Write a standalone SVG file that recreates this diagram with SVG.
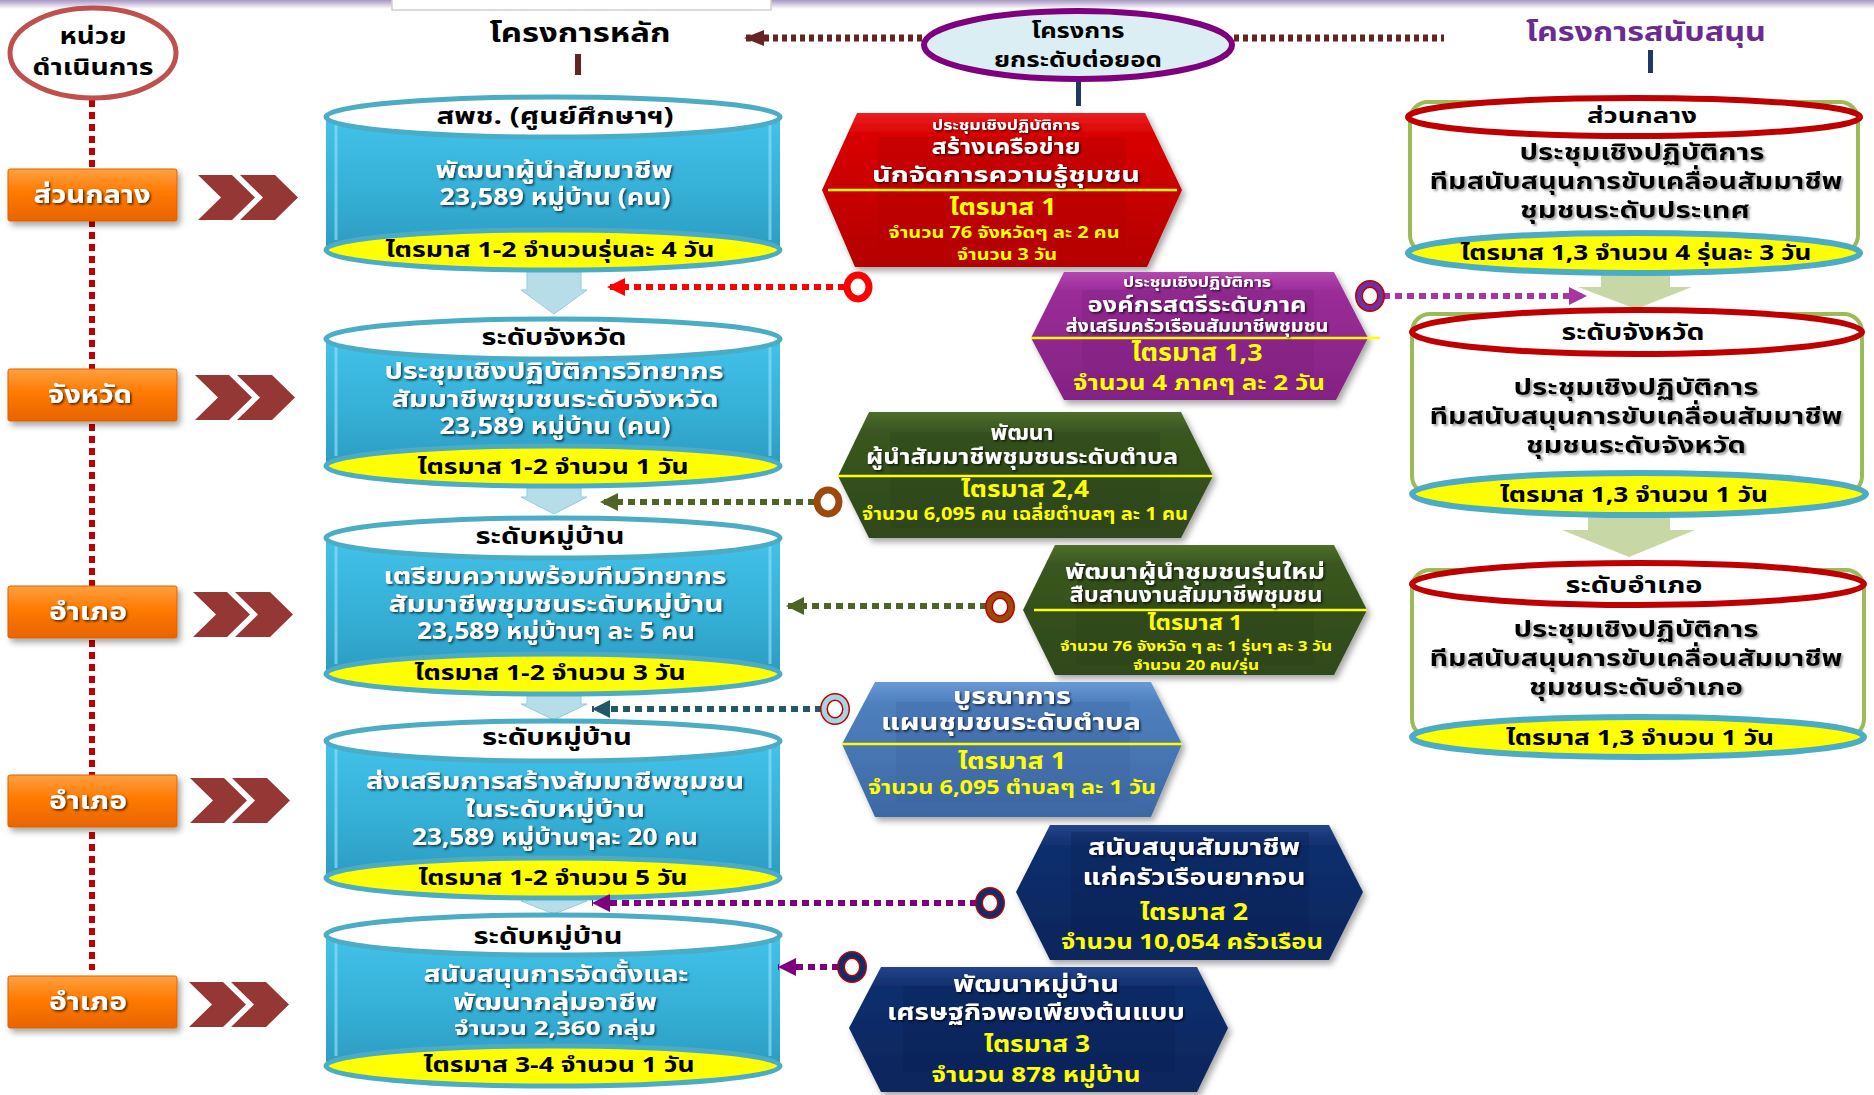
<svg xmlns="http://www.w3.org/2000/svg" width="1874" height="1095" viewBox="0 0 1874 1095">
<defs>
<style>
text{font-family:'Noto Sans Thai','Noto Sans','DejaVu Sans',sans-serif;font-weight:bold;text-anchor:middle;dominant-baseline:central}
.blk{fill:#000}
.wht{fill:#fff;filter:url(#ts)}
.yel{fill:#ffff00}
.gtx{fill:#000;filter:url(#tg)}
.cylbody{fill:url(#gBlue)}
.cyledge{fill:none;stroke:#8fdcf3;stroke-width:3;opacity:.7}
.cyltop{fill:#fff;stroke:#4bacc6;stroke-width:5}
.cylbot{fill:#ffff00;stroke:#4bacc6;stroke-width:5}
.rtop{fill:#fff;stroke:#c00000;stroke-width:6}
.rbot{fill:#ffff00;stroke:#4bacc6;stroke-width:6}
.rside{fill:#fff;stroke:#9bbb59;stroke-width:4}
.obox{fill:url(#gOrange);stroke:#d9640a;stroke-width:1;filter:url(#sh)}
.chev{fill:#953735}
.barrow{fill:#b7dde8;stroke:#93cddd;stroke-width:1}
.garrow{fill:#c7d7a6}
.yl{stroke:#ffff00;stroke-width:2.5}
.dot{fill:none;stroke-width:6;stroke-dasharray:7 5}
.hex{filter:url(#sh)}
</style>
<linearGradient id="gBlue" x1="0" y1="0" x2="0" y2="1">
<stop offset="0" stop-color="#42c2ea"/><stop offset="0.5" stop-color="#35afd6"/><stop offset="1" stop-color="#2a95b9"/>
</linearGradient>
<linearGradient id="gOrange" x1="0" y1="0" x2="0" y2="1">
<stop offset="0" stop-color="#ffa040"/><stop offset="0.45" stop-color="#ff7a00"/><stop offset="1" stop-color="#e86400"/>
</linearGradient>
<linearGradient id="gRed" x1="0" y1="0" x2="0" y2="1">
<stop offset="0" stop-color="#ec2020"/><stop offset="0.15" stop-color="#d80000"/><stop offset="1" stop-color="#b40000"/>
</linearGradient>
<linearGradient id="gPur" x1="0" y1="0" x2="0" y2="1">
<stop offset="0" stop-color="#b447b2"/><stop offset="0.15" stop-color="#9a2d98"/><stop offset="1" stop-color="#842283"/>
</linearGradient>
<linearGradient id="gGrn" x1="0" y1="0" x2="0" y2="1">
<stop offset="0" stop-color="#4e6e2c"/><stop offset="0.15" stop-color="#3a5620"/><stop offset="1" stop-color="#2f481a"/>
</linearGradient>
<linearGradient id="gStl" x1="0" y1="0" x2="0" y2="1">
<stop offset="0" stop-color="#6a9ad6"/><stop offset="0.15" stop-color="#4f80be"/><stop offset="1" stop-color="#3d68a3"/>
</linearGradient>
<linearGradient id="gNav" x1="0" y1="0" x2="0" y2="1">
<stop offset="0" stop-color="#24458a"/><stop offset="0.15" stop-color="#112f6e"/><stop offset="1" stop-color="#0c255c"/>
</linearGradient>
<linearGradient id="gTop" x1="0" y1="0" x2="0" y2="1">
<stop offset="0" stop-color="#a898c4"/><stop offset="1" stop-color="#ffffff"/>
</linearGradient>
<filter id="sh" x="-10%" y="-10%" width="125%" height="135%">
<feDropShadow dx="3" dy="4" stdDeviation="3" flood-color="#000" flood-opacity="0.35"/>
</filter>
<filter id="ts" x="-5%" y="-20%" width="115%" height="150%">
<feDropShadow dx="1.5" dy="1.5" stdDeviation="0.8" flood-color="#000" flood-opacity="0.7"/>
</filter>
<filter id="tg" x="-5%" y="-20%" width="115%" height="150%">
<feDropShadow dx="2" dy="2" stdDeviation="1" flood-color="#888" flood-opacity="0.8"/>
</filter>
<marker id="mRed" viewBox="0 0 10 10" refX="10" refY="5" markerWidth="18" markerHeight="18" markerUnits="userSpaceOnUse" orient="auto"><path d="M0,0 L10,5 L0,10 z" fill="#ff0000"/></marker>
<marker id="mOl" viewBox="0 0 10 10" refX="10" refY="5" markerWidth="18" markerHeight="18" markerUnits="userSpaceOnUse" orient="auto"><path d="M0,0 L10,5 L0,10 z" fill="#4f6228"/></marker>
<marker id="mTeal" viewBox="0 0 10 10" refX="10" refY="5" markerWidth="18" markerHeight="18" markerUnits="userSpaceOnUse" orient="auto"><path d="M0,0 L10,5 L0,10 z" fill="#215967"/></marker>
<marker id="mPur" viewBox="0 0 10 10" refX="10" refY="5" markerWidth="18" markerHeight="18" markerUnits="userSpaceOnUse" orient="auto"><path d="M0,0 L10,5 L0,10 z" fill="#7f007f"/></marker>
<marker id="mMag" viewBox="0 0 10 10" refX="10" refY="5" markerWidth="18" markerHeight="18" markerUnits="userSpaceOnUse" orient="auto"><path d="M0,0 L10,5 L0,10 z" fill="#a935a5"/></marker>
<marker id="mBrn" viewBox="0 0 10 10" refX="10" refY="5" markerWidth="20" markerHeight="16" markerUnits="userSpaceOnUse" orient="auto" preserveAspectRatio="none"><path d="M0,0 L10,5 L0,10 z" fill="#632523"/></marker>
</defs>

<rect x="0" y="0" width="1874" height="1095" fill="#ffffff"/>
<rect x="0" y="0" width="1874" height="9" fill="url(#gTop)"/>
<rect x="392" y="-2" width="379" height="12" fill="#fff" stroke="#d0d0d0" stroke-width="1.5"/>

<!-- connectors -->
<g id="connectors">
<line class="dot" x1="92" y1="100" x2="92" y2="970" stroke="#c00000"/>
<line x1="922" y1="38" x2="744" y2="38" stroke="#632523" stroke-width="7" stroke-dasharray="5 4" marker-end="url(#mBrn)"/>
<line x1="1234" y1="38" x2="1444" y2="38" stroke="#632523" stroke-width="7" stroke-dasharray="5 4"/>
<rect x="575" y="54" width="6" height="21" fill="#632523"/>
<rect x="1076" y="79" width="5" height="27" fill="#1f3864"/>
<rect x="1648" y="50" width="5" height="23" fill="#1f3864"/>
</g>

<!-- left unit column -->
<g id="unit-header">
<ellipse cx="93" cy="53" rx="83" ry="45" fill="#fff" stroke="#c0504d" stroke-width="5"/>
<text class="blk" x="93" y="37" font-size="23" textLength="67" lengthAdjust="spacingAndGlyphs">หน่วย</text>
<text class="blk" x="93" y="68" font-size="23" textLength="121" lengthAdjust="spacingAndGlyphs">ดำเนินการ</text>
</g>
<g id="unit-1"><rect class="obox" x="8" y="169" width="169" height="52" rx="2"/><text class="wht" x="92" y="195" font-size="25" textLength="117" lengthAdjust="spacingAndGlyphs">ส่วนกลาง</text></g>
<g id="unit-2"><rect class="obox" x="8" y="369" width="169" height="52" rx="2"/><text class="wht" x="90" y="395" font-size="25" textLength="84" lengthAdjust="spacingAndGlyphs">จังหวัด</text></g>
<g id="unit-3"><rect class="obox" x="8" y="586" width="169" height="52" rx="2"/><text class="wht" x="88" y="612" font-size="25" textLength="78" lengthAdjust="spacingAndGlyphs">อำเภอ</text></g>
<g id="unit-4"><rect class="obox" x="8" y="775" width="169" height="52" rx="2"/><text class="wht" x="88" y="801" font-size="25" textLength="78" lengthAdjust="spacingAndGlyphs">อำเภอ</text></g>
<g id="unit-5"><rect class="obox" x="8" y="976" width="169" height="52" rx="2"/><text class="wht" x="88" y="1002" font-size="25" textLength="78" lengthAdjust="spacingAndGlyphs">อำเภอ</text></g>

<g id="chevrons">
<g transform="translate(198,175)"><polygon class="chev" points="0,0 34,0 57,22.5 34,45 0,45 23,22.5"/><polygon class="chev" points="42,0 77,0 100,22.5 77,45 42,45 65,22.5"/></g>
<g transform="translate(195,375)"><polygon class="chev" points="0,0 34,0 57,22.5 34,45 0,45 23,22.5"/><polygon class="chev" points="42,0 77,0 100,22.5 77,45 42,45 65,22.5"/></g>
<g transform="translate(193,592)"><polygon class="chev" points="0,0 34,0 57,22.5 34,45 0,45 23,22.5"/><polygon class="chev" points="42,0 77,0 100,22.5 77,45 42,45 65,22.5"/></g>
<g transform="translate(190,778)"><polygon class="chev" points="0,0 34,0 57,22.5 34,45 0,45 23,22.5"/><polygon class="chev" points="42,0 77,0 100,22.5 77,45 42,45 65,22.5"/></g>
<g transform="translate(189,982)"><polygon class="chev" points="0,0 34,0 57,22.5 34,45 0,45 23,22.5"/><polygon class="chev" points="42,0 77,0 100,22.5 77,45 42,45 65,22.5"/></g>
</g>

<!-- headers -->
<g id="header-main"><text class="blk" x="580" y="33" font-size="27" textLength="181" lengthAdjust="spacingAndGlyphs">โครงการหลัก</text></g>
<g id="header-upgrade">
<ellipse cx="1078" cy="45" rx="154" ry="34" fill="#dbeef4" stroke="#7f007f" stroke-width="6"/>
<text class="blk" x="1078" y="31" font-size="21" textLength="93" lengthAdjust="spacingAndGlyphs">โครงการ</text>
<text class="blk" x="1078" y="60" font-size="21" textLength="168" lengthAdjust="spacingAndGlyphs">ยกระดับต่อยอด</text>
</g>
<g id="header-support"><text x="1646" y="32" font-size="27" fill="#6b2c91" textLength="240" lengthAdjust="spacingAndGlyphs">โครงการสนับสนุน</text></g>

<!-- blue down arrows -->
<g id="main-arrows">
<polygon class="barrow" points="527,262 581,262 581,290 587,290 554,314 521,290 527,290"/>
<polygon class="barrow" points="527,484 581,484 581,497 587,497 554,514 521,497 527,497"/>
<polygon class="barrow" points="527,692 581,692 581,704 587,704 554,720 521,704 527,704"/>
<polygon class="barrow" points="527,895 581,895 581,901 587,901 554,914 521,901 527,901"/>
</g>

<!-- main cylinders -->
<g id="main-1">
<path class="cylbody" d="M326,117 L326,250 A227,20 0 0 0 780,250 L780,117 Z"/>
<path class="cyledge" d="M336,125 L336,240 M770,125 L770,240"/>
<ellipse class="cyltop" cx="553" cy="117" rx="227" ry="20"/>
<ellipse class="cylbot" cx="553" cy="250" rx="227" ry="20"/>
<text class="blk" x="555" y="117" font-size="23" textLength="237" lengthAdjust="spacingAndGlyphs">สพช. (ศูนย์ศึกษาฯ)</text>
<text class="wht" x="554" y="171" font-size="23" textLength="237" lengthAdjust="spacingAndGlyphs">พัฒนาผู้นำสัมมาชีพ</text>
<text class="wht" x="555" y="198" font-size="23" textLength="231" lengthAdjust="spacingAndGlyphs">23,589 หมู่บ้าน (คน)</text>
<text class="blk" x="550" y="250" font-size="22" textLength="329" lengthAdjust="spacingAndGlyphs">ไตรมาส 1-2 จำนวนรุ่นละ 4 วัน</text>
</g>
<g id="main-2">
<path class="cylbody" d="M326,339 L326,466 A227,20 0 0 0 780,466 L780,339 Z"/>
<path class="cyledge" d="M336,347 L336,456 M770,347 L770,456"/>
<ellipse class="cyltop" cx="553" cy="339" rx="227" ry="20"/>
<ellipse class="cylbot" cx="553" cy="466" rx="227" ry="20"/>
<text class="blk" x="554" y="338" font-size="23" textLength="145" lengthAdjust="spacingAndGlyphs">ระดับจังหวัด</text>
<text class="wht" x="554" y="372" font-size="23" textLength="339" lengthAdjust="spacingAndGlyphs">ประชุมเชิงปฏิบัติการวิทยากร</text>
<text class="wht" x="555" y="400" font-size="23" textLength="327" lengthAdjust="spacingAndGlyphs">สัมมาชีพชุมชนระดับจังหวัด</text>
<text class="wht" x="555" y="427" font-size="23" textLength="231" lengthAdjust="spacingAndGlyphs">23,589 หมู่บ้าน (คน)</text>
<text class="blk" x="553" y="467" font-size="22" textLength="271" lengthAdjust="spacingAndGlyphs">ไตรมาส 1-2 จำนวน 1 วัน</text>
</g>
<g id="main-3">
<path class="cylbody" d="M326,538 L326,674 A227,20 0 0 0 780,674 L780,538 Z"/>
<path class="cyledge" d="M336,546 L336,664 M770,546 L770,664"/>
<ellipse class="cyltop" cx="553" cy="538" rx="227" ry="20"/>
<ellipse class="cylbot" cx="553" cy="674" rx="227" ry="20"/>
<text class="blk" x="550" y="537" font-size="23" textLength="149" lengthAdjust="spacingAndGlyphs">ระดับหมู่บ้าน</text>
<text class="wht" x="555" y="577" font-size="23" textLength="343" lengthAdjust="spacingAndGlyphs">เตรียมความพร้อมทีมวิทยากร</text>
<text class="wht" x="556" y="605" font-size="23" textLength="335" lengthAdjust="spacingAndGlyphs">สัมมาชีพชุมชนระดับหมู่บ้าน</text>
<text class="wht" x="556" y="632" font-size="23" textLength="278" lengthAdjust="spacingAndGlyphs">23,589 หมู่บ้านๆ ละ 5 คน</text>
<text class="blk" x="550" y="673" font-size="22" textLength="271" lengthAdjust="spacingAndGlyphs">ไตรมาส 1-2 จำนวน 3 วัน</text>
</g>
<g id="main-4">
<path class="cylbody" d="M326,741 L326,878 A227,20 0 0 0 780,878 L780,741 Z"/>
<path class="cyledge" d="M336,749 L336,868 M770,749 L770,868"/>
<ellipse class="cyltop" cx="553" cy="741" rx="227" ry="20"/>
<ellipse class="cylbot" cx="553" cy="878" rx="227" ry="20"/>
<text class="blk" x="557" y="738" font-size="23" textLength="150" lengthAdjust="spacingAndGlyphs">ระดับหมู่บ้าน</text>
<text class="wht" x="555" y="782" font-size="23" textLength="378" lengthAdjust="spacingAndGlyphs">ส่งเสริมการสร้างสัมมาชีพชุมชน</text>
<text class="wht" x="555" y="810" font-size="23" textLength="180" lengthAdjust="spacingAndGlyphs">ในระดับหมู่บ้าน</text>
<text class="wht" x="555" y="838" font-size="23" textLength="286" lengthAdjust="spacingAndGlyphs">23,589 หมู่บ้านๆละ 20 คน</text>
<text class="blk" x="553" y="878" font-size="22" textLength="269" lengthAdjust="spacingAndGlyphs">ไตรมาส 1-2 จำนวน 5 วัน</text>
</g>
<g id="main-5">
<path class="cylbody" d="M326,935 L326,1066 A227,20 0 0 0 780,1066 L780,935 Z"/>
<path class="cyledge" d="M336,943 L336,1056 M770,943 L770,1056"/>
<ellipse class="cyltop" cx="553" cy="935" rx="227" ry="20"/>
<ellipse class="cylbot" cx="553" cy="1066" rx="227" ry="20"/>
<text class="blk" x="548" y="937" font-size="23" textLength="149" lengthAdjust="spacingAndGlyphs">ระดับหมู่บ้าน</text>
<text class="wht" x="556" y="975" font-size="23" textLength="265" lengthAdjust="spacingAndGlyphs">สนับสนุนการจัดตั้งและ</text>
<text class="wht" x="555" y="1003" font-size="23" textLength="204" lengthAdjust="spacingAndGlyphs">พัฒนากลุ่มอาชีพ</text>
<text class="wht" x="555" y="1029" font-size="20" textLength="202" lengthAdjust="spacingAndGlyphs">จำนวน 2,360 กลุ่ม</text>
<text class="blk" x="559" y="1065" font-size="22" textLength="271" lengthAdjust="spacingAndGlyphs">ไตรมาส 3-4 จำนวน 1 วัน</text>
</g>

<!-- green arrows -->
<g id="support-arrows">
<polygon class="garrow" points="1601,270 1670,270 1670,287 1692,287 1636,309 1578,287 1601,287"/>
<polygon class="garrow" points="1588,514 1670,514 1670,530 1695,530 1629,557 1562,530 1588,530"/>
</g>

<!-- support cylinders -->
<g id="support-1">
<rect class="rside" x="1410" y="102" width="448" height="151" rx="18"/>
<ellipse class="rtop" cx="1634" cy="117" rx="226" ry="19"/>
<ellipse class="rbot" cx="1634" cy="253" rx="226" ry="20"/>
<text class="blk" x="1642" y="116" font-size="22" textLength="110" lengthAdjust="spacingAndGlyphs">ส่วนกลาง</text>
<text class="gtx" x="1642" y="153" font-size="23" textLength="245" lengthAdjust="spacingAndGlyphs">ประชุมเชิงปฏิบัติการ</text>
<text class="gtx" x="1636" y="182" font-size="23" textLength="413" lengthAdjust="spacingAndGlyphs">ทีมสนับสนุนการขับเคลื่อนสัมมาชีพ</text>
<text class="gtx" x="1635" y="211" font-size="23" textLength="230" lengthAdjust="spacingAndGlyphs">ชุมชนระดับประเทศ</text>
<text class="blk" x="1636" y="253" font-size="22" textLength="351" lengthAdjust="spacingAndGlyphs">ไตรมาส 1,3 จำนวน 4 รุ่นละ 3 วัน</text>
</g>
<g id="support-2">
<rect class="rside" x="1412" y="314" width="450" height="180" rx="18"/>
<ellipse class="rtop" cx="1637" cy="332" rx="225" ry="22"/>
<ellipse class="rbot" cx="1639" cy="494" rx="227" ry="21"/>
<text class="blk" x="1633" y="333" font-size="23" textLength="143" lengthAdjust="spacingAndGlyphs">ระดับจังหวัด</text>
<text class="gtx" x="1636" y="388" font-size="23" textLength="245" lengthAdjust="spacingAndGlyphs">ประชุมเชิงปฏิบัติการ</text>
<text class="gtx" x="1636" y="417" font-size="23" textLength="413" lengthAdjust="spacingAndGlyphs">ทีมสนับสนุนการขับเคลื่อนสัมมาชีพ</text>
<text class="gtx" x="1636" y="446" font-size="23" textLength="220" lengthAdjust="spacingAndGlyphs">ชุมชนระดับจังหวัด</text>
<text class="blk" x="1634" y="495" font-size="22" textLength="268" lengthAdjust="spacingAndGlyphs">ไตรมาส 1,3 จำนวน 1 วัน</text>
</g>
<g id="support-3">
<rect class="rside" x="1412" y="570" width="452" height="167" rx="18"/>
<ellipse class="rtop" cx="1638" cy="584" rx="226" ry="21"/>
<ellipse class="rbot" cx="1638" cy="737" rx="226" ry="20"/>
<text class="blk" x="1634" y="586" font-size="23" textLength="137" lengthAdjust="spacingAndGlyphs">ระดับอำเภอ</text>
<text class="gtx" x="1636" y="630" font-size="23" textLength="245" lengthAdjust="spacingAndGlyphs">ประชุมเชิงปฏิบัติการ</text>
<text class="gtx" x="1636" y="659" font-size="23" textLength="413" lengthAdjust="spacingAndGlyphs">ทีมสนับสนุนการขับเคลื่อนสัมมาชีพ</text>
<text class="gtx" x="1636" y="688" font-size="23" textLength="214" lengthAdjust="spacingAndGlyphs">ชุมชนระดับอำเภอ</text>
<text class="blk" x="1640" y="738" font-size="22" textLength="268" lengthAdjust="spacingAndGlyphs">ไตรมาส 1,3 จำนวน 1 วัน</text>
</g>

<!-- hexagons -->
<g id="upgrade-1">
<polygon class="hex" points="857,113 1145,113 1182,190 1147,267 855,267 822,190" fill="url(#gRed)"/>
<rect x="878" y="137" width="248" height="108" fill="#b00000" opacity=".35"/>
<line class="yl" x1="828" y1="190" x2="1177" y2="190"/>
<text class="wht" x="1006" y="125" font-size="14" textLength="148" lengthAdjust="spacingAndGlyphs">ประชุมเชิงปฏิบัติการ</text>
<text class="wht" x="1006" y="147" font-size="22" textLength="149" lengthAdjust="spacingAndGlyphs">สร้างเครือข่าย</text>
<text class="wht" x="1006" y="175" font-size="22" textLength="268" lengthAdjust="spacingAndGlyphs">นักจัดการความรู้ชุมชน</text>
<text class="yel" x="1003" y="208" font-size="23" textLength="107" lengthAdjust="spacingAndGlyphs">ไตรมาส 1</text>
<text class="yel" x="1004" y="233" font-size="16" textLength="231" lengthAdjust="spacingAndGlyphs">จำนวน 76 จังหวัดๆ ละ 2 คน</text>
<text class="yel" x="1007" y="255" font-size="16" textLength="100" lengthAdjust="spacingAndGlyphs">จำนวน 3 วัน</text>
</g>
<g id="upgrade-2">
<polygon class="hex" points="1064,272 1334,272 1368,338 1336,400 1064,400 1031,338" fill="url(#gPur)"/>
<rect x="1082" y="290" width="232" height="100" fill="#7a1f7a" opacity=".3"/>
<line class="yl" x1="1031" y1="338" x2="1380" y2="338"/>
<text class="wht" x="1197" y="282" font-size="14" textLength="148" lengthAdjust="spacingAndGlyphs">ประชุมเชิงปฏิบัติการ</text>
<text class="wht" x="1197" y="305" font-size="22" textLength="219" lengthAdjust="spacingAndGlyphs">องค์กรสตรีระดับภาค</text>
<text class="wht" x="1197" y="327" font-size="17" textLength="263" lengthAdjust="spacingAndGlyphs">ส่งเสริมครัวเรือนสัมมาชีพชุมชน</text>
<text class="yel" x="1197" y="354" font-size="24" textLength="131" lengthAdjust="spacingAndGlyphs">ไตรมาส 1,3</text>
<text class="yel" x="1199" y="383" font-size="22" textLength="252" lengthAdjust="spacingAndGlyphs">จำนวน 4 ภาคๆ ละ 2 วัน</text>
</g>
<g id="upgrade-3">
<polygon class="hex" points="869,412 1181,412 1213,476 1181,538 869,538 838,476" fill="url(#gGrn)"/>
<rect x="890" y="432" width="270" height="96" fill="#2a4217" opacity=".35"/>
<line class="yl" x1="838" y1="476" x2="1213" y2="476"/>
<text class="wht" x="1022" y="433" font-size="21" textLength="63" lengthAdjust="spacingAndGlyphs">พัฒนา</text>
<text class="wht" x="1022" y="457" font-size="21" textLength="312" lengthAdjust="spacingAndGlyphs">ผู้นำสัมมาชีพชุมชนระดับตำบล</text>
<text class="yel" x="1025" y="490" font-size="23" textLength="128" lengthAdjust="spacingAndGlyphs">ไตรมาส 2,4</text>
<text class="yel" x="1025" y="515" font-size="17" textLength="326" lengthAdjust="spacingAndGlyphs">จำนวน 6,095 คน เฉลี่ยตำบลๆ ละ 1 คน</text>
</g>
<g id="upgrade-4">
<polygon class="hex" points="1055,545 1334,545 1367,610 1334,675 1055,675 1023,610" fill="url(#gGrn)"/>
<rect x="1076" y="565" width="238" height="100" fill="#2a4217" opacity=".35"/>
<line class="yl" x1="1034" y1="610" x2="1367" y2="610"/>
<text class="wht" x="1195" y="572" font-size="21" textLength="260" lengthAdjust="spacingAndGlyphs">พัฒนาผู้นำชุมชนรุ่นใหม่</text>
<text class="wht" x="1196" y="595" font-size="21" textLength="253" lengthAdjust="spacingAndGlyphs">สืบสานงานสัมมาชีพชุมชน</text>
<text class="yel" x="1195" y="623" font-size="21" textLength="95" lengthAdjust="spacingAndGlyphs">ไตรมาส 1</text>
<text class="yel" x="1196" y="646" font-size="14" textLength="272" lengthAdjust="spacingAndGlyphs">จำนวน 76 จังหวัด ๆ ละ 1 รุ่นๆ ละ 3 วัน</text>
<text class="yel" x="1196" y="665" font-size="14" textLength="126" lengthAdjust="spacingAndGlyphs">จำนวน 20 คน/รุ่น</text>
</g>
<g id="upgrade-5">
<polygon class="hex" points="875,682 1151,682 1182,744 1151,817 875,817 842,744" fill="url(#gStl)"/>
<rect x="896" y="702" width="234" height="100" fill="#3a64a0" opacity=".3"/>
<line class="yl" x1="842" y1="744" x2="1182" y2="744"/>
<text class="wht" x="1012" y="697" font-size="23" textLength="118" lengthAdjust="spacingAndGlyphs">บูรณาการ</text>
<text class="wht" x="1011" y="723" font-size="23" textLength="260" lengthAdjust="spacingAndGlyphs">แผนชุมชนระดับตำบล</text>
<text class="yel" x="1012" y="762" font-size="23" textLength="108" lengthAdjust="spacingAndGlyphs">ไตรมาส 1</text>
<text class="yel" x="1012" y="788" font-size="20" textLength="288" lengthAdjust="spacingAndGlyphs">จำนวน 6,095 ตำบลๆ ละ 1 วัน</text>
</g>
<g id="upgrade-6">
<polygon class="hex" points="1050,825 1329,825 1363,892 1329,960 1050,960 1016,892" fill="url(#gNav)"/>
<rect x="1071" y="832" width="238" height="108" fill="#0a1f52" opacity=".35"/>
<text class="wht" x="1194" y="848" font-size="23" textLength="212" lengthAdjust="spacingAndGlyphs">สนับสนุนสัมมาชีพ</text>
<text class="wht" x="1194" y="878" font-size="23" textLength="223" lengthAdjust="spacingAndGlyphs">แก่ครัวเรือนยากจน</text>
<text class="yel" x="1194" y="913" font-size="23" textLength="108" lengthAdjust="spacingAndGlyphs">ไตรมาส 2</text>
<text class="yel" x="1192" y="942" font-size="22" textLength="262" lengthAdjust="spacingAndGlyphs">จำนวน 10,054 ครัวเรือน</text>
</g>
<g id="upgrade-7">
<polygon class="hex" points="881,967 1197,967 1228,1028 1197,1092 881,1092 849,1028" fill="url(#gNav)"/>
<rect x="903" y="986" width="272" height="86" fill="#0a1f52" opacity=".35"/>
<text class="wht" x="1036" y="985" font-size="23" textLength="166" lengthAdjust="spacingAndGlyphs">พัฒนาหมู่บ้าน</text>
<text class="wht" x="1036" y="1013" font-size="23" textLength="298" lengthAdjust="spacingAndGlyphs">เศรษฐกิจพอเพียงต้นแบบ</text>
<text class="yel" x="1037" y="1045" font-size="23" textLength="106" lengthAdjust="spacingAndGlyphs">ไตรมาส 3</text>
<text class="yel" x="1036" y="1075" font-size="22" textLength="209" lengthAdjust="spacingAndGlyphs">จำนวน 878 หมู่บ้าน</text>
</g>

<!-- dotted links with rings -->
<g id="links">
<line class="dot" x1="845" y1="287" x2="607" y2="287" stroke="#ff0000" marker-end="url(#mRed)"/>
<line class="dot" x1="815" y1="502" x2="600" y2="502" stroke="#4f6228" marker-end="url(#mOl)"/>
<line class="dot" x1="987" y1="606" x2="786" y2="606" stroke="#4f6228" marker-end="url(#mOl)"/>
<line class="dot" x1="822" y1="709" x2="592" y2="709" stroke="#215967" marker-end="url(#mTeal)"/>
<line class="dot" x1="977" y1="903" x2="592" y2="903" stroke="#7f007f" marker-end="url(#mPur)"/>
<line class="dot" x1="839" y1="967" x2="778" y2="967" stroke="#7f007f" marker-end="url(#mPur)"/>
<line class="dot" x1="1383" y1="296" x2="1587" y2="296" stroke="#a935a5" marker-end="url(#mMag)"/>
<ellipse cx="858" cy="287" rx="11" ry="12" fill="#fff" stroke="#ff0000" stroke-width="7"/>
<ellipse cx="828" cy="502" rx="11" ry="12" fill="#fff" stroke="#9c4a0c" stroke-width="7"/>
<ellipse cx="1000" cy="607" rx="11" ry="12" fill="#fff" stroke="#c00000" stroke-width="8"/>
<ellipse cx="1000" cy="607" rx="11" ry="12" fill="none" stroke="#9c4a0c" stroke-width="5"/>
<ellipse cx="835" cy="709" rx="11" ry="12" fill="#fff" stroke="#c00000" stroke-width="8"/>
<ellipse cx="835" cy="709" rx="11" ry="12" fill="none" stroke="#a5d5e2" stroke-width="5"/>
<ellipse cx="990" cy="903" rx="11" ry="12" fill="#fff" stroke="#c00000" stroke-width="8"/>
<ellipse cx="990" cy="903" rx="11" ry="12" fill="none" stroke="#0f2d6b" stroke-width="5"/>
<ellipse cx="852" cy="967" rx="11" ry="12" fill="#fff" stroke="#c00000" stroke-width="8"/>
<ellipse cx="852" cy="967" rx="11" ry="12" fill="none" stroke="#0f2d6b" stroke-width="5"/>
<ellipse cx="1370" cy="296" rx="11" ry="12" fill="#fff" stroke="#c00000" stroke-width="8"/>
<ellipse cx="1370" cy="296" rx="11" ry="12" fill="none" stroke="#7030a0" stroke-width="5"/>
</g>
</svg>
